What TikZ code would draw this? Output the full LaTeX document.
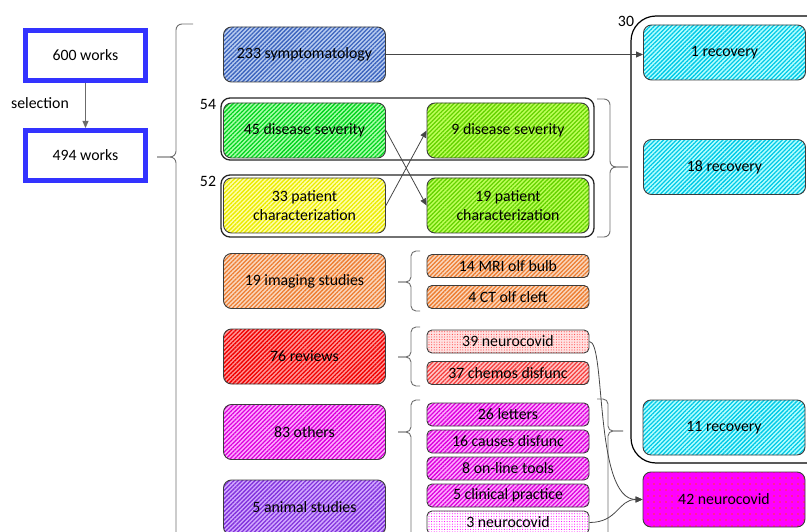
\documentclass[tikz,border=0pt]{standalone}
\usepackage{fontspec}
\setmainfont{Carlito}
\usetikzlibrary{arrows.meta,patterns.meta}
\definecolor{boxline}{RGB}{60,60,60}
\definecolor{conn}{RGB}{70,70,70}
\definecolor{bracec}{RGB}{110,110,110}
\definecolor{selblue}{RGB}{51,51,255}
\definecolor{sympF}{RGB}{185,205,240}\definecolor{sympH}{RGB}{60,100,190}
\definecolor{gF}{RGB}{170,255,170}\definecolor{gH}{RGB}{0,210,30}
\definecolor{lF}{RGB}{190,255,90}\definecolor{lH}{RGB}{100,210,0}
\definecolor{yF}{RGB}{255,255,170}\definecolor{yH}{RGB}{235,235,0}
\definecolor{oF}{RGB}{250,215,190}\definecolor{oH}{RGB}{237,125,49}
\definecolor{rF}{RGB}{255,150,150}\definecolor{rH}{RGB}{240,0,0}
\definecolor{pF}{RGB}{255,225,225}\definecolor{pD}{RGB}{255,70,70}
\definecolor{prF}{RGB}{255,200,200}\definecolor{prH}{RGB}{245,60,60}
\definecolor{mF}{RGB}{255,170,255}\definecolor{mH}{RGB}{220,0,220}
\definecolor{vF}{RGB}{210,170,255}\definecolor{vH}{RGB}{130,50,220}
\definecolor{cF}{RGB}{180,255,255}\definecolor{cH}{RGB}{0,200,230}
\definecolor{nF}{RGB}{255,0,255}\definecolor{nD}{RGB}{255,60,60}
\tikzset{
  txt/.style={font=\fontsize{15.8}{19.5}\selectfont, align=center, inner sep=0pt},
  bigbox/.style={txt, draw=boxline, line width=0.9pt, rounded corners=8pt, minimum width=162pt, minimum height=55pt},
  smallbox/.style={txt, draw=boxline, line width=0.9pt, rounded corners=5pt, minimum width=162pt, minimum height=23pt},
  hatch/.style 2 args={preaction={fill=#1}, pattern={Lines[angle=45,distance=3pt,line width=1.3pt]}, pattern color=#2},
  dotty/.style 2 args={preaction={fill=#1}, pattern={Dots[radius=0.55pt,distance=2.6pt]}, pattern color=#2},
  bigdots/.style 2 args={preaction={fill=#1}, pattern={Dots[radius=0.8pt,distance=6pt]}, pattern color=#2},
  selbox/.style={txt, draw=selblue, line width=5pt, minimum width=120pt, minimum height=50pt},
  groupbox/.style={draw=black!85, line width=1.3pt, rounded corners=9pt, inner sep=0pt},
  conline/.style={draw=conn, line width=0.8pt},
  arr/.style={conline, -{Triangle[length=7pt,width=6pt]}},
  bracel/.style={draw=bracec, line width=0.9pt, rounded corners=6pt},
}
\begin{document}
\begin{tikzpicture}[x=1pt,y=-1pt]
\useasboundingbox (0,0) rectangle (807,532);
\clip (0,0) rectangle (807,532);
% selection boxes
\node[selbox] (w600) at (85.5,55.5) {600 works};
\node[selbox] (w494) at (85.5,155.5) {494 works};
\node[txt, anchor=center] (sel) at (40,103) {selection};
\draw[arr, draw=conn!80] (w600.south) -- (w494.north);
% big brace
\draw[bracel] (193,24) -- (176,24) -- (176,157) -- (157,157);
\draw[bracel] (193,570) -- (176,570) -- (176,157) -- (157,157);
% container 30
\node[draw=black, line width=1.2pt, rounded corners=25pt, minimum width=220pt, minimum height=447pt, inner sep=0pt] (c30) at (741,239.5) {};
\node[txt] (l30) at (626,21) {30};
% group boxes
\node[groupbox, minimum width=373pt, minimum height=62pt] (g54) at (407.5,129) {};
\node[groupbox, minimum width=373pt, minimum height=62pt] (g52) at (407.5,206) {};
\node[txt] (l54) at (208,104) {54};
\node[txt] (l52) at (208,181) {52};
% left column
\node[bigbox, hatch={sympF}{sympH}] (symp) at (304.5,54.5) {233 symptomatology};
\node[bigbox, hatch={gF}{gH}] (ds45) at (304.5,130.5) {45 disease severity};
\node[bigbox, hatch={yF}{yH}] (pc33) at (304.5,205.5) {33 patient\\characterization};
\node[bigbox, hatch={oF}{oH}] (img) at (304.5,281) {19 imaging studies};
\node[bigbox, hatch={rF}{rH}] (rev) at (304.5,356.5) {76 reviews};
\node[bigbox, hatch={mF}{mH}] (oth) at (304.5,432) {83 others};
\node[bigbox, hatch={vF}{vH}] (ani) at (304.5,507.5) {5 animal studies};
% middle column
\node[bigbox, hatch={lF}{lH}] (ds9) at (508,130.5) {9 disease severity};
\node[bigbox, hatch={lF}{lH}] (pc19) at (508,205.5) {19 patient\\characterization};
\node[smallbox, hatch={oF}{oH}] (mri) at (508,266) {14 MRI olf bulb};
\node[smallbox, hatch={oF}{oH}] (ct) at (508,297) {4 CT olf cleft};
\node[smallbox, dotty={pF}{pD}] (n39) at (508,341.5) {39 neurocovid};
\node[smallbox, hatch={prF}{prH}] (ch37) at (508,373) {37 chemos disfunc};
\node[smallbox, hatch={mF}{mH}] (let26) at (508,414.5) {26 letters};
\node[smallbox, hatch={mF}{mH}] (cau16) at (508,441.5) {16 causes disfunc};
\node[smallbox, hatch={mF}{mH}] (onl8) at (508,468.5) {8 on-line tools};
\node[smallbox, hatch={mF}{mH}] (cli5) at (508,495.5) {5 clinical practice};
\node[smallbox, dotty={white}{nF}] (n3) at (508,522.5) {3 neurocovid};
% right column
\node[bigbox, hatch={cF}{cH}] (rec1) at (724.5,52.5) {1 recovery};
\node[bigbox, hatch={cF}{cH}] (rec18) at (724.5,167) {18 recovery};
\node[bigbox, hatch={cF}{cH}] (rec11) at (724,427.5) {11 recovery};
\node[bigbox, bigdots={nF}{nD}] (n42) at (724,499.5) {42 neurocovid};
% braces
\draw[bracel] (597,99) -- (610,99) -- (610,167) -- (628,167);
\draw[bracel] (597,237) -- (610,237) -- (610,167) -- (628,167);
\draw[bracel, rounded corners=5pt] (420,251) -- (411,251) -- (411,282) -- (398,282);
\draw[bracel, rounded corners=5pt] (420,311) -- (411,311) -- (411,282) -- (398,282);
\draw[bracel, rounded corners=5pt] (420,327) -- (411,327) -- (411,357) -- (398,357);
\draw[bracel, rounded corners=5pt] (420,386) -- (411,386) -- (411,357) -- (398,357);
\draw[bracel, rounded corners=5pt] (420,400) -- (411,400) -- (411,432) -- (398,432);
\draw[bracel, rounded corners=5pt] (420,570) -- (411,570) -- (411,432) -- (398,432);
\draw[bracel, rounded corners=5pt] (597,399) -- (608,399) -- (608,431) -- (623,431);
\draw[bracel, rounded corners=5pt] (597,560) -- (608,560) -- (608,431) -- (623,431);
% connectors
\draw[arr] (symp.east) -- (symp.east -| rec1.west);
\draw[arr] (ds45.east) -- (pc19.west);
\draw[arr] (pc33.east) -- (ds9.west);
\draw[arr] (n39.east) .. controls (606,341.5) and (594,499.5) .. (n42.west);
\draw[arr] (n3.east) .. controls (618,522.5) and (618,499.5) .. (n42.west);
\end{tikzpicture}
\end{document}
